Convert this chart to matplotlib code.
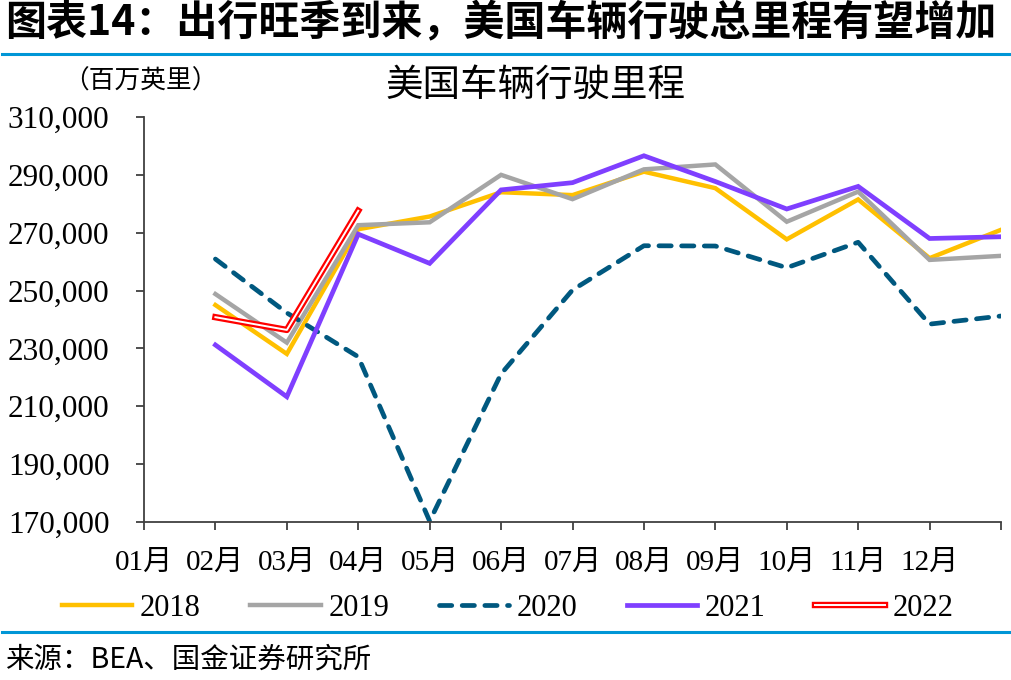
import matplotlib
matplotlib.use('Agg')
import matplotlib.pyplot as plt
import matplotlib.patheffects as pe
from matplotlib.ticker import FuncFormatter
from matplotlib.lines import Line2D

plt.rcParams['font.family'] = ['Liberation Serif', 'Noto Sans CJK SC', 'DejaVu Sans']

months = ['01月', '02月', '03月', '04月', '05月', '06月', '07月', '08月', '09月', '10月', '11月', '12月']
v2018 = [245000, 228100, 271200, 275600, 284000, 283000, 291100, 285400, 267700, 281500, 261200, 271000]
v2019 = [248800, 232000, 272600, 273600, 290000, 281600, 291900, 293600, 273800, 284200, 260600, 262000]
v2020 = [260900, 242300, 227100, 170300, 221200, 250200, 265500, 265400, 257900, 266700, 238400, 241200]
v2021 = [231200, 213300, 269500, 259400, 284800, 287300, 296600, 287700, 278200, 286000, 268000, 268600]
v2022 = [240800, 236400, 277600]

fig = plt.figure(figsize=(10.11, 6.8), dpi=100)
ax = fig.add_axes([144 / 1011, 1 - 522 / 680, (1001 - 144) / 1011, (522 - 117) / 680])

# 数据点画在刻度线上（原图第一个点落在第二条刻度线处）
x = list(range(1, 13))
ax.plot(x, v2018, color='#FFC000', lw=3.2, label='2018', solid_joinstyle='miter')
ax.plot(x, v2019, color='#A5A5A5', lw=3.2, label='2019', solid_joinstyle='miter')
ax.plot(x, v2020, color='#00587F', lw=3.4, ls=(0, (2.6, 2.2)), dash_capstyle='round',
        label='2020')
ax.plot(x, v2021, color='#7F3FFF', lw=3.4, label='2021', solid_joinstyle='miter')
ax.plot(x[:len(v2022)], v2022, color='white', lw=1.4, label='2022',
        path_effects=[pe.Stroke(linewidth=4.6, foreground='#FF0000'), pe.Normal()])

ax.set_xlim(0, 12)
ax.set_ylim(170000, 310000)
ax.set_yticks(range(170000, 310001, 20000))
ax.yaxis.set_major_formatter(FuncFormatter(lambda v, p: f'{int(v):,}'))
ax.set_xticks(range(0, 13))
ax.set_xticklabels(months + [''])

for s in ['top', 'right']:
    ax.spines[s].set_visible(False)
for s in ['left', 'bottom']:
    ax.spines[s].set_color('#404040')
    ax.spines[s].set_linewidth(1.3)
ax.tick_params(axis='both', direction='out', length=6, width=1.3, color='#404040',
               labelsize=21, labelcolor='black')
ax.tick_params(axis='y', pad=19, labelsize=22.5)
ax.tick_params(axis='x', pad=14)

fig.text(535 / 1011, 1 - 85 / 680, '美国车辆行驶里程', ha='center', va='center', fontsize=27,
         family=['Noto Sans CJK SC'])
fig.text(140 / 1011, 1 - 82 / 680, '（百万英里）', ha='center', va='center', fontsize=18.5,
         family=['Noto Sans CJK SC'])

fig.legend(loc='center', bbox_to_anchor=(508 / 1011, 1 - 608 / 680), ncol=5, frameon=False,
           fontsize=22, handlelength=2.3, handletextpad=0.25, columnspacing=1.62)

# 顶部标题与来源
fig.text(5 / 1011, 1 - 22 / 680, '图表14：出行旺季到来，美国车辆行驶总里程有望增加', ha='left',
         va='center', fontsize=29.5, fontweight='bold', style='italic',
         family=['Noto Sans CJK SC'])
fig.add_artist(Line2D([2 / 1011, 1009 / 1011], [1 - 54 / 680, 1 - 54 / 680],
                      color='#0096D6', lw=2.2))
fig.add_artist(Line2D([2 / 1011, 1009 / 1011], [1 - 632 / 680, 1 - 632 / 680],
                      color='#0096D6', lw=2.2))
fig.text(5 / 1011, 1 - 660 / 680, '来源：BEA、国金证券研究所', ha='left', va='center', fontsize=20.5,
         family=['Noto Sans CJK SC', 'Liberation Sans'])

fig.savefig('out.png', dpi=100)
